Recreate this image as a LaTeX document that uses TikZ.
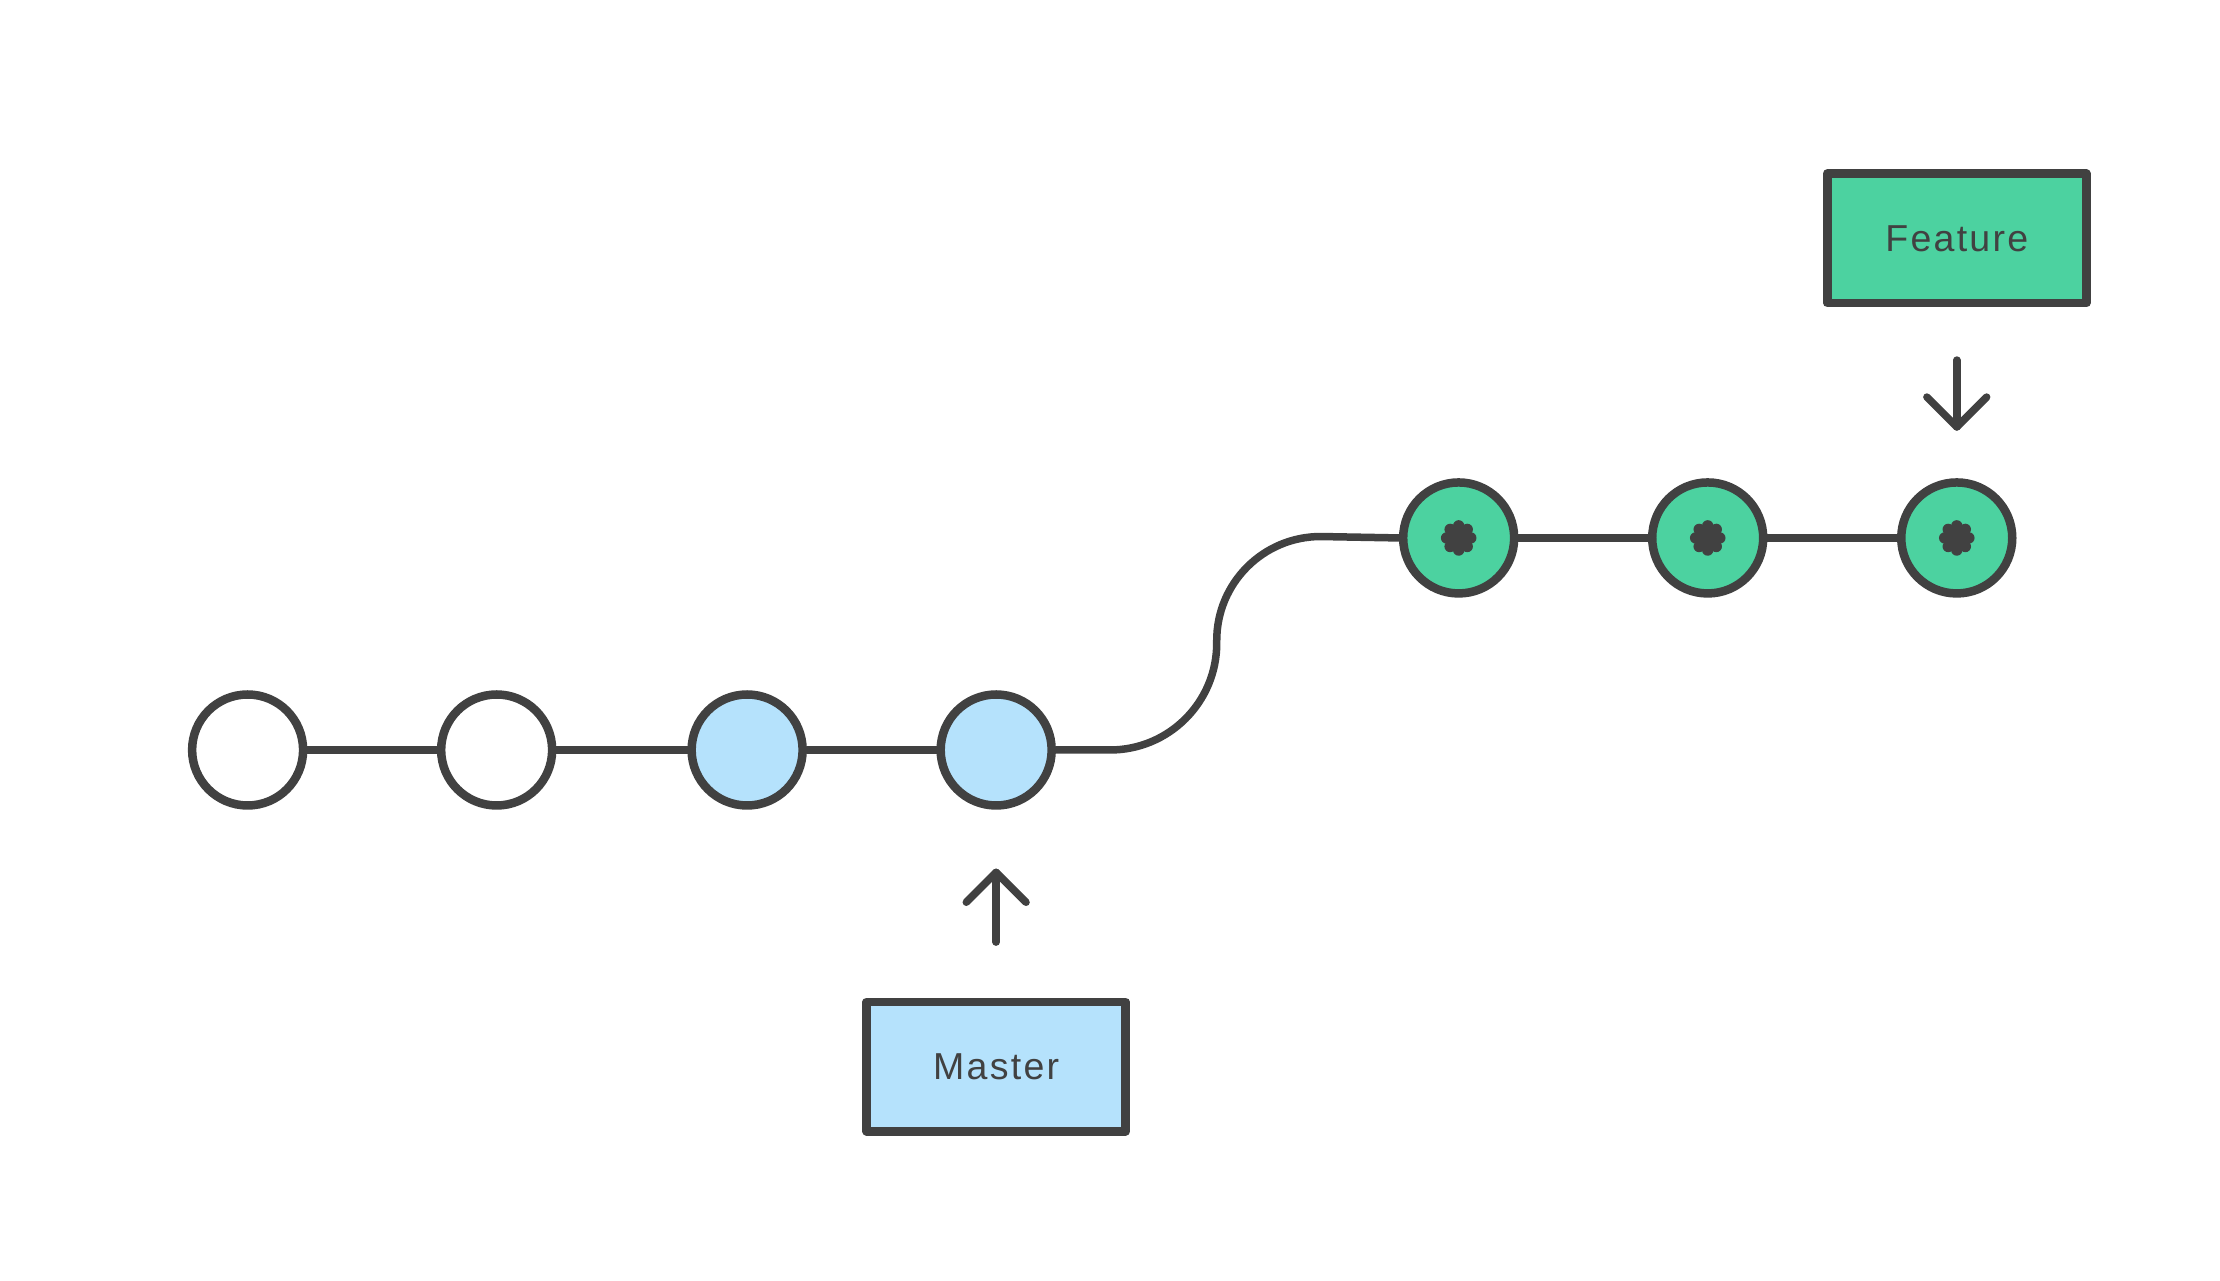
\documentclass[tikz,border=0pt]{standalone}
\usepackage{fontspec}
\setmainfont{Liberation Sans}
\usetikzlibrary{positioning}
\definecolor{ink}{HTML}{414141}
\definecolor{mblue}{HTML}{B5E2FC}
\definecolor{fgreen}{HTML}{4CD2A0}
\tikzset{
  every path/.style={line width=1.5pt,line cap=round,line join=round},
  commit/.style={circle,draw=ink,line width=1.7pt,minimum size=0.78cm,inner sep=0pt,fill=white},
  label box/.style={rectangle,draw=ink,line width=1.7pt,minimum width=1.82cm,minimum height=0.91cm,
    font=\fontsize{7.5}{9}\selectfont\addfontfeatures{LetterSpace=6},text=ink}
}
\newcommand{\flower}[1]{%
  \foreach \a in {0,45,...,315}
    \fill[ink] (#1) ++(\a:0.085) circle (0.04);
  \fill[ink] (#1) circle (0.08);}

\begin{document}
\begin{tikzpicture}
\useasboundingbox (0,0) rectangle (15.6,-9.0);

% master line
\node[commit] (c1) at (1.74,-5.27) {};
\node[commit] (c2) at (3.49,-5.27) {};
\node[commit,fill=mblue] (c3) at (5.25,-5.27) {};
\node[commit,fill=mblue] (c4) at (7.00,-5.27) {};

% feature line
\node[commit,fill=fgreen] (f1) at (10.25,-3.78) {};
\node[commit,fill=fgreen] (f2) at (12.00,-3.78) {};
\node[commit,fill=fgreen] (f3) at (13.75,-3.78) {};
\flower{f1}
\flower{f2}
\flower{f3}

\draw[ink] (c1) -- (c2);
\draw[ink] (c2) -- (c3);
\draw[ink] (c3) -- (c4);
\draw[ink] (c4.east) -- ++(0.38,0) arc (-90:0:0.75) -- ++(0,0.02) arc (180:90:0.73) -- (f1.west);
\draw[ink] (f1) -- (f2);
\draw[ink] (f2) -- (f3);

% branch labels
\node[label box,fill=mblue] (master) at (7.00,-7.495) {Master};
\node[label box,fill=fgreen] (feature) at (13.75,-1.675) {Feature};

\coordinate (mtip) at (7.00,-6.13);
\coordinate (ftip) at (13.75,-3.00);
\draw[ink] (7.00,-6.62) -- (mtip);
\draw[ink] (6.79,-6.34) -- (mtip) -- (7.21,-6.34);
\draw[ink] (13.75,-2.53) -- (ftip);
\draw[ink] (13.54,-2.79) -- (ftip) -- (13.96,-2.79);

\end{tikzpicture}
\end{document}
